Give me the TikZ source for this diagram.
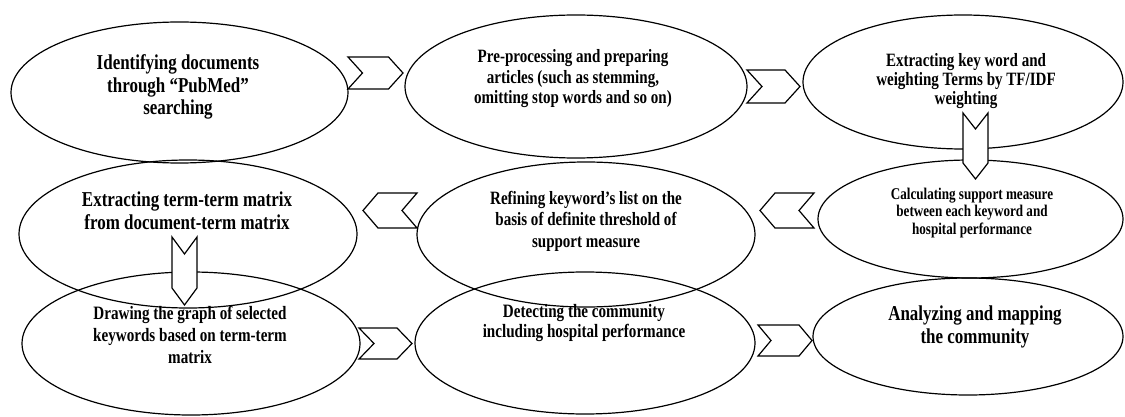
\documentclass[tikz,border=0pt]{standalone}
\usepackage{fontspec}
\usetikzlibrary{shapes.geometric}
\newfontfamily\lserif[FakeStretch=0.8,BoldFeatures={FakeStretch=0.8}]{Liberation Serif}
\newcommand\chevright[5]{%
 \draw[chev] ({#1-#3/2},{#2-#4/2}) -- ({#1+#3/2-#5},{#2-#4/2}) -- ({#1+#3/2},#2) -- ({#1+#3/2-#5},{#2+#4/2}) -- ({#1-#3/2},{#2+#4/2}) -- ({#1-#3/2+#5},#2) -- cycle;}
\newcommand\chevleft[5]{%
 \draw[chev] ({#1+#3/2},{#2-#4/2}) -- ({#1-#3/2+#5},{#2-#4/2}) -- ({#1-#3/2},#2) -- ({#1-#3/2+#5},{#2+#4/2}) -- ({#1+#3/2},{#2+#4/2}) -- ({#1+#3/2-#5},#2) -- cycle;}
\newcommand\chevdown[5]{%
 \draw[chev] ({#1-#4/2},{#2-#3/2}) -- ({#1-#4/2},{#2+#3/2-#5}) -- (#1,{#2+#3/2}) -- ({#1+#4/2},{#2+#3/2-#5}) -- ({#1+#4/2},{#2-#3/2}) -- (#1,{#2-#3/2+#5}) -- cycle;}
\begin{document}
\begin{tikzpicture}[x=1pt,y=-1pt,
  ell/.style={draw=black, ellipse, line width=1.2pt, inner sep=0pt},
  chev/.style={draw=black, fill=white, line width=1.2pt, line join=miter},
  txt/.style={align=center, inner sep=0pt, text=black},
  fbig/.style={font=\lserif\bfseries\fontsize{21.2}{22.5}\selectfont},
  fmid/.style={font=\lserif\bfseries\fontsize{18.8}{20.5}\selectfont},
  fsml/.style={font=\lserif\bfseries\fontsize{16.4}{17.5}\selectfont}]
\useasboundingbox (0,0) rectangle (1125,417);
% ellipses
\node[ell, minimum width=337pt, minimum height=141pt] (e1) at (179.5,92.5) {};
\node[ell, minimum width=342pt, minimum height=143pt] (e2) at (576,86.5) {};
\node[ell, minimum width=320pt, minimum height=134pt] (e3) at (963,82) {};
\node[ell, minimum width=338pt, minimum height=148pt] (e4) at (188,234) {};
\node[ell, minimum width=338pt, minimum height=145pt] (e5) at (586,234.5) {};
\node[ell, minimum width=305pt, minimum height=118pt] (e6) at (970.5,219) {};
\node[ell, minimum width=338pt, minimum height=143pt] (e7) at (191,343.5) {};
\node[ell, minimum width=340pt, minimum height=142pt] (e8) at (585,343) {};
\node[ell, minimum width=310pt, minimum height=117pt] (e9) at (968,336.5) {};
% chevrons
\chevright{375.5}{73}{55}{32}{14.5}
\chevright{773.5}{86.5}{53}{33}{15}
\chevdown{975.5}{146}{66}{25}{16}
\chevleft{787}{210.5}{54}{35}{15}
\chevleft{390}{210.5}{54}{35}{15}
\chevdown{184.5}{271}{68}{25}{17}
\chevright{385.5}{343.5}{53}{31}{15}
\chevright{785}{340.5}{54}{31}{13}
% texts
\node[txt, fbig] (t1) at (178,87) {Identifying documents\\through “PubMed”\\searching};
\node[txt, fmid] (t2) at (573,79) {Pre-processing and preparing\\articles (such as stemming,\\omitting stop words and so on)};
\node[txt, font=\lserif\bfseries\fontsize{18.8}{19}\selectfont] (t3) at (966,81) {Extracting key word and\\weighting Terms by TF/IDF\\weighting};
\node[txt, font=\lserif\bfseries\fontsize{21.2}{23}\selectfont] (t4) at (187,211) {Extracting term-term matrix\\from document-term matrix};
\node[txt, font=\lserif\bfseries\fontsize{18.8}{21.5}\selectfont] (t5) at (586,221) {Refining keyword’s list on the\\basis of definite threshold of\\support measure};
\node[txt, fsml] (t6) at (972,213) {Calculating support measure\\between each keyword and\\hospital performance};
\node[txt, font=\lserif\bfseries\fontsize{18.9}{22}\selectfont] (t7) at (190,335) {Drawing the graph of selected\\keywords based on term-term\\matrix};
\node[txt, font=\lserif\bfseries\fontsize{18.9}{20}\selectfont] (t8) at (584,323) {Detecting the community\\including hospital performance};
\node[txt, font=\lserif\bfseries\fontsize{21.2}{23}\selectfont] (t9) at (975,327) {Analyzing and mapping\\the community};
\end{tikzpicture}
\end{document}
